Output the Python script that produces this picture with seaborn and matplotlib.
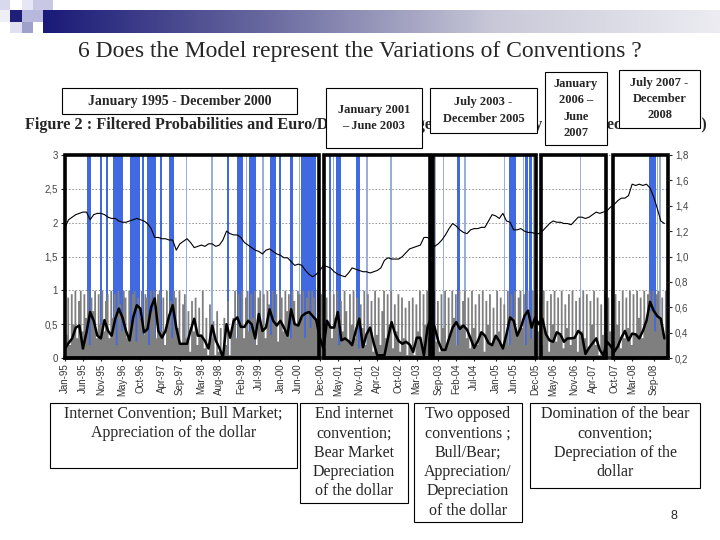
import numpy as np
import matplotlib
matplotlib.use("Agg")
import matplotlib.pyplot as plt
from matplotlib.patches import Rectangle
from matplotlib.colors import LinearSegmentedColormap
import seaborn as sns

# -------------------------------
# Data (x in months from Jan 1995)
# -------------------------------
# Euro/Dollar rate, one value per month (right axis)
euro_dollar = [
    1.23, 1.29, 1.31, 1.33, 1.34, 1.35, 1.35, 1.29, 1.33, 1.34, 1.34, 1.33,
    1.31, 1.30, 1.30, 1.28, 1.27, 1.27, 1.28, 1.29, 1.30, 1.29, 1.28, 1.26,
    1.22, 1.15, 1.15, 1.14, 1.14, 1.13, 1.13, 1.05, 1.10, 1.12, 1.14, 1.11,
    1.07, 1.08, 1.09, 1.08, 1.10, 1.10, 1.08, 1.09, 1.13, 1.20, 1.18, 1.17,
    1.17, 1.15, 1.11, 1.09, 1.07, 1.05, 1.04, 1.02, 1.05, 1.06, 1.04, 1.02,
    1.01, 0.99, 0.99, 0.96, 0.93, 0.94, 0.93, 0.89, 0.86, 0.84, 0.86, 0.89,
    0.93, 0.92, 0.91, 0.88, 0.86, 0.85, 0.84, 0.87, 0.91, 0.90, 0.89, 0.88,
    0.88, 0.87, 0.88, 0.89, 0.91, 0.97, 0.99, 0.98, 0.98, 0.98, 1.00, 1.03,
    1.06, 1.07, 1.08, 1.09, 1.15, 1.15, 1.13, 1.08, 1.10, 1.13, 1.17, 1.22,
    1.26, 1.24, 1.21, 1.19, 1.18, 1.21, 1.22, 1.22, 1.23, 1.23, 1.28, 1.33,
    1.32, 1.30, 1.34, 1.28, 1.27, 1.21, 1.21, 1.22, 1.20, 1.19, 1.19, 1.18,
    1.18, 1.20, 1.23, 1.26, 1.28, 1.27, 1.27, 1.26, 1.26, 1.25, 1.28, 1.31,
    1.31, 1.30, 1.31, 1.33, 1.35, 1.34, 1.35, 1.36, 1.39, 1.41, 1.44, 1.46,
    1.46, 1.48, 1.57, 1.56, 1.57, 1.56, 1.57, 1.54, 1.47, 1.38, 1.28, 1.26,
]

# smoothed probability, one value per month (left axis)
smoothed_prob = [
    0.14, 0.22, 0.29, 0.45, 0.48, 0.14, 0.38, 0.68, 0.55, 0.33, 0.29, 0.56,
    0.40, 0.33, 0.58, 0.73, 0.60, 0.40, 0.26, 0.60, 0.78, 0.73, 0.38, 0.43,
    0.75, 0.88, 0.40, 0.30, 0.40, 0.62, 0.78, 0.45, 0.21, 0.21, 0.21, 0.41,
    0.58, 0.33, 0.33, 0.25, 0.14, 0.48, 0.26, 0.15, 0.01, 0.50, 0.30, 0.55,
    0.60, 0.46, 0.46, 0.55, 0.50, 0.29, 0.65, 0.40, 0.45, 0.72, 0.55, 0.48,
    0.55, 0.45, 0.33, 0.72, 0.50, 0.48, 0.62, 0.66, 0.68, 0.62, 0.56, 0.30,
    0.14, 0.55, 0.45, 0.45, 0.68, 0.26, 0.29, 0.25, 0.19, 0.40, 0.58, 0.16,
    0.35, 0.45, 0.22, 0.04, 0.04, 0.04, 0.30, 0.53, 0.35, 0.25, 0.21, 0.24,
    0.20, 0.09, 0.30, 0.30, 0.04, 0.45, 0.60, 0.45, 0.25, 0.12, 0.12, 0.29,
    0.45, 0.53, 0.43, 0.48, 0.42, 0.29, 0.15, 0.25, 0.38, 0.33, 0.22, 0.19,
    0.33, 0.25, 0.14, 0.35, 0.60, 0.55, 0.33, 0.45, 0.62, 0.70, 0.45, 0.60,
    0.50, 0.58, 0.35, 0.26, 0.24, 0.38, 0.35, 0.24, 0.29, 0.29, 0.30, 0.40,
    0.35, 0.06, 0.15, 0.22, 0.29, 0.12, 0.04, 0.24, 0.18, 0.09, 0.17, 0.30,
    0.40, 0.26, 0.36, 0.35, 0.29, 0.40, 0.55, 0.83, 0.70, 0.62, 0.58, 0.29,
]

# filtered probability, two values per month (left axis)
filtered_prob = [
    0.35, 0.9, 0.2, 0.95, 0.5, 1.0, 0.3, 0.85, 1.0, 0.4, 0.95, 0.6, 1.0, 0.2, 0.9, 0.7, 1.0, 0.3, 0.95, 0.5, 1.0, 0.4, 0.85, 0.95,
    0.3, 1.0, 0.6, 0.95, 0.2, 1.0, 0.8, 0.4, 1.0, 0.9, 0.3, 1.0, 0.5, 0.95, 1.0, 0.25, 0.9, 0.6, 1.0, 0.35, 0.95, 0.9, 0.2, 1.0,
    0.7, 1.0, 0.3, 0.95, 1.0, 0.4, 0.9, 0.2, 1.0, 0.6, 0.85, 0.3, 1.0, 0.9, 0.45, 1.0, 0.2, 0.8, 0.95, 0.3, 0.7, 0.1, 0.85, 0.4,
    0.9, 0.2, 0.75, 0.35, 1.0, 0.15, 0.6, 0.05, 0.8, 0.3, 0.55, 0.05, 0.7, 0.1, 0.45, 0.0, 0.6, 0.2, 0.85, 0.05, 0.4, 0.6, 1.0, 0.3,
    0.95, 0.5, 1.0, 0.3, 0.9, 1.0, 0.4, 0.95, 0.6, 1.0, 0.2, 0.9, 1.0, 0.5, 0.95, 0.3, 1.0, 0.8, 0.35, 1.0, 0.6, 0.95, 0.25, 1.0,
    0.9, 0.4, 1.0, 0.7, 0.95, 0.3, 1.0, 0.85, 0.5, 1.0, 0.95, 0.6, 1.0, 0.3, 0.9, 1.0, 0.45, 1.0, 0.9, 0.6, 1.0, 0.5, 0.95, 0.2,
    0.15, 0.9, 0.5, 1.0, 0.3, 0.95, 0.6, 1.0, 0.2, 0.85, 0.4, 1.0, 0.7, 0.25, 0.95, 0.5, 1.0, 0.3, 0.9, 0.15, 0.8, 0.45, 1.0, 0.2,
    0.95, 0.4, 0.85, 0.1, 1.0, 0.35, 0.9, 0.2, 0.7, 1.0, 0.3, 0.95, 0.5, 1.0, 0.15, 0.8, 0.4, 0.95, 0.1, 0.9, 0.3, 0.75, 0.05, 0.85,
    0.2, 0.9, 0.05, 0.8, 0.4, 1.0, 0.2, 0.95, 0.5, 1.0, 0.3, 0.9, 0.6, 1.0, 0.25, 0.85, 0.1, 0.95, 0.45, 1.0, 0.2, 0.9, 0.35, 1.0,
    0.6, 0.95, 0.2, 1.0, 0.5, 0.85, 1.0, 0.3, 0.9, 0.15, 1.0, 0.45, 0.8, 0.2, 0.95, 0.35, 1.0, 0.1, 0.85, 0.5, 0.95, 0.2, 0.75, 0.3,
    1.0, 0.4, 0.9, 0.15, 0.8, 0.3, 1.0, 0.2, 0.95, 0.6, 1.0, 0.35, 0.9, 1.0, 0.45, 0.95, 0.2, 1.0, 0.7, 0.3, 1.0, 0.5, 0.95, 0.4,
    0.9, 0.2, 1.0, 0.4, 0.85, 0.1, 0.95, 0.5, 1.0, 0.25, 0.9, 0.35, 1.0, 0.15, 0.8, 0.45, 0.95, 0.2, 1.0, 0.3, 0.85, 0.1, 0.9, 0.4,
    1.0, 0.3, 0.95, 0.15, 0.85, 0.5, 1.0, 0.2, 0.9, 0.05, 0.8, 0.35, 1.0, 0.1, 0.9, 0.4, 1.0, 0.25, 0.95, 0.5, 0.85, 0.15, 1.0, 0.3,
    0.9, 0.45, 1.0, 0.2, 0.95, 0.35, 1.0, 0.6, 0.9, 0.3, 1.0, 0.5, 0.95, 1.0, 0.7, 1.0, 0.4, 0.95, 1.0, 0.6, 0.9, 0.3, 1.0, 0.2,
]

# regime spells (start, end month) shown as full height bars
regime_dark = [
    (6.05, 7.2), (9.8, 10.3), (11.5, 11.9), (13.3, 16.1), (18.2, 20.9), (21.5, 22.1),
    (22.8, 25.4), (26.5, 27.0), (28.9, 30.5), (45.0, 45.7), (47.8, 49.6), (51.3, 53.3),
    (57.1, 58.7), (59.6, 60.2), (62.7, 63.4), (65.8, 70.0), (73.5, 74.2), (75.6, 76.8),
    (81.2, 82.1), (101.3, 102.6), (109.2, 110.1), (123.7, 125.7), (128.2, 129.0),
    (129.4, 130.1), (162.7, 164.6),
]
regime_light = [
    (33.8, 34.1), (40.8, 41.1), (50.3, 50.7), (54.9, 55.4), (65.2, 65.6), (74.6, 74.9),
    (83.8, 84.3), (90.5, 91.0), (103.2, 103.5), (105.2, 105.5), (111.3, 111.6),
    (122.4, 122.7), (127.5, 127.8), (130.4, 130.7), (143.6, 143.9), (164.8, 165.2),
    (165.6, 166.0),
]

# sub-periods framed on the chart
period_start = [0.0, 72.2, 102.6, 132.7, 152.7]
period_end = [70.8, 101.7, 131.3, 150.8, 168.0]

tick_months = [0, 5, 10, 16, 21, 27, 32, 38, 43, 49, 54, 60, 65, 71, 76, 82,
               87, 93, 98, 104, 109, 114, 120, 125, 131, 136, 142, 147, 153, 158, 164]
tick_labels = ["Jan-95", "Jun-95", "Nov-95", "May-96", "Oct-96", "Apr-97", "Sep-97",
               "Mar-98", "Aug-98", "Feb-99", "Jul-99", "Jan-00", "Jun-00", "Dec-00",
               "May-01", "Nov-01", "Apr-02", "Oct-02", "Mar-03", "Sep-03", "Feb-04",
               "Jul-04", "Jan-05", "Jun-05", "Dec-05", "May-06", "Nov-06", "Apr-07",
               "Oct-07", "Mar-08", "Sep-08"]

top_texts = ["January 1995 - December 2000", "January 2001\n– June 2003",
             "July 2003 -\nDecember 2005", "January\n2006 –\nJune\n2007",
             "July 2007 -\nDecember\n2008"]
bottom_texts = ["Internet Convention; Bull Market;\nAppreciation of the dollar",
                "End internet\nconvention;\nBear Market\nDepreciation\nof the dollar",
                "Two opposed\nconventions ;\nBull/Bear;\nAppreciation/\nDepreciation\nof the dollar",
                "Domination of the bear\nconvention;\nDepreciation of the\ndollar"]

# -------------------------------
# Figure
# -------------------------------
sns.set_style("white")
plt.rcParams["font.family"] = ["Liberation Serif", "DejaVu Serif"]

fig = plt.figure(figsize=(7.2, 5.4), dpi=100)
ax = fig.add_axes([65 / 720, 1 - 358 / 540, 603 / 720, 203 / 540])

months = np.arange(len(euro_dollar))
half_months = np.arange(len(filtered_prob)) * 0.5 + 0.25

for a, b in regime_dark:
    ax.axvspan(a, b, color="#4169E1", lw=0, zorder=1)
for a, b in regime_light:
    ax.axvspan(a, b, color="#9AAEDC", lw=0, zorder=1)

ax.fill_between(half_months, 0, filtered_prob, step="mid", color="#7f7f7f", lw=0, zorder=2)
sns.lineplot(x=months, y=smoothed_prob, ax=ax, color="black", lw=1.8, zorder=3)

for a, b in zip(period_start, period_end):
    ax.add_patch(Rectangle((a, 0), b - a, 3, fill=False, ec="black", lw=2.6,
                           zorder=5, clip_on=False))

ax.set_xlim(0, 168)
ax.set_ylim(0, 3)
ax.set_axisbelow(True)
ax.grid(axis="y", color="#8a8a8a", ls=(0, (2, 2)), lw=0.6)
ax.set_yticks([0, 0.5, 1, 1.5, 2, 2.5, 3])
ax.set_yticklabels(["0", "0,5", "1", "1,5", "2", "2,5", "3"])
ax.set_xticks(tick_months)
ax.set_xticklabels(tick_labels, rotation=90)
for s in ["top", "right", "left"]:
    ax.spines[s].set_visible(False)
ax.spines["bottom"].set_linewidth(2.6)
ax.tick_params(axis="y", length=3, labelsize=7, labelcolor="#444444", pad=2, left=True)
ax.tick_params(axis="x", length=2, labelsize=7, labelcolor="#333333", pad=2, bottom=True)
for lab in ax.get_xticklabels() + ax.get_yticklabels():
    lab.set_family("Liberation Sans")
ax.set_xlabel("")
ax.set_ylabel("")

ax2 = ax.twinx()
sns.lineplot(x=months, y=euro_dollar, ax=ax2, color="black", lw=0.8)
ax2.set_ylim(0.2, 1.8)
ax2.set_yticks(np.round(np.arange(0.2, 1.81, 0.2), 1))
ax2.set_yticklabels([f"{v:.1f}".replace(".", ",") for v in np.arange(0.2, 1.81, 0.2)])
for s in ax2.spines.values():
    s.set_visible(False)
ax2.tick_params(axis="y", length=3, labelsize=7, labelcolor="#444444", pad=2, right=True)
for lab in ax2.get_yticklabels():
    lab.set_family("Liberation Sans")
ax2.set_ylabel("")

# -------------------------------
# Slide overlay (pixel coordinates)
# -------------------------------
ov = fig.add_axes([0, 0, 1, 1], zorder=10)
ov.axis("off")

bar_cmap = LinearSegmentedColormap.from_list("bar", ["#1a1a78", "#6a6aa0", "#c8c8d8", "#ececf2"])
ov.imshow(np.linspace(0, 1, 256)[None, :], extent=[43, 720, 33, 10], cmap=bar_cmap,
          aspect="auto", zorder=1)
squares = [((0, 0, 10, 10), "#d8d8ee"), ((22, 0, 11, 10), "#e6e6f4"), ((33, 0, 20, 10), "#c8c8e4"),
           ((0, 10, 10, 12), "#eeeef6"), ((10, 10, 12, 12), "#1f1f7a"), ((22, 10, 21, 12), "#b8b8dc"),
           ((10, 22, 12, 11), "#e0e0f0"), ((22, 22, 11, 11), "#a0a0cc")]
for (x0, y0, w, h), c in squares:
    ov.add_patch(Rectangle((x0, y0), w, h, color=c, lw=0, zorder=2))
ov.set_xlim(0, 720)
ov.set_ylim(540, 0)

ov.text(360, 52, "6 Does the Model represent the Variations of Conventions ?",
        ha="center", va="center", fontsize=17)
ov.text(25, 125, "Figure 2 : Filtered Probabilities and Euro/Dollar Exchange Rates (January 1995 – December 2008)",
        ha="left", va="center", fontsize=11.7, fontweight="bold", zorder=1)

top_boxes = [(62, 88, 297, 114), (326, 88, 422, 148), (430, 88, 537, 133),
             (545, 72, 607, 145), (619, 70, 700, 128)]
top_sizes = [10, 9, 9, 9, 9]
for (x0, y0, x1, y1), t, fs in zip(top_boxes, top_texts, top_sizes):
    ov.add_patch(Rectangle((x0, y0), x1 - x0, y1 - y0, fc="white", ec="black", lw=0.8, zorder=3))
    ov.text((x0 + x1) / 2, (y0 + y1) / 2, t, ha="center", va="center", fontsize=fs,
            fontweight="bold", linespacing=1.45, zorder=4)

bottom_boxes = [(50, 403, 297, 468), (300, 403, 408, 503), (414, 403, 522, 522), (530, 403, 700, 488)]
for (x0, y0, x1, y1), t in zip(bottom_boxes, bottom_texts):
    ov.add_patch(Rectangle((x0, y0), x1 - x0, y1 - y0, fc="white", ec="black", lw=0.8, zorder=3))
    ov.text((x0 + x1) / 2, y0 + 3, t, ha="center", va="top", fontsize=11.5,
            linespacing=1.28, zorder=4)

ov.text(674, 516, "8", ha="center", va="center", fontsize=9, family="Liberation Sans")

plt.savefig("out.png", dpi=100)
